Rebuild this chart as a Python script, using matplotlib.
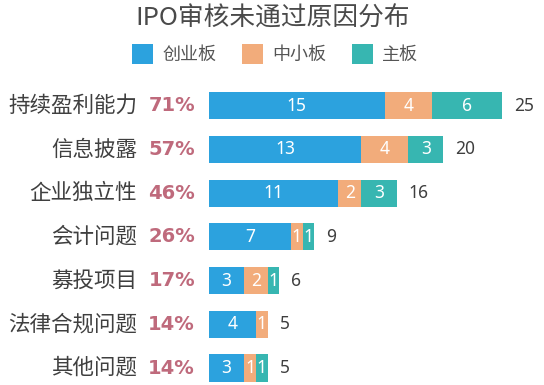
import matplotlib
matplotlib.use("Agg")
import matplotlib.pyplot as plt
from matplotlib.patches import Patch
import numpy as np

plt.rcParams['font.family'] = ['Noto Sans CJK SC', 'DejaVu Sans']

title = "IPO审核未通过原因分布"
categories = ["持续盈利能力", "信息披露", "企业独立性", "会计问题", "募投项目", "法律合规问题", "其他问题"]
percents = ["71%", "57%", "46%", "26%", "17%", "14%", "14%"]
series_names = ["创业板", "中小板", "主板"]
chuangye = [15, 13, 11, 7, 3, 4, 3]
zhongxiao = [4, 4, 2, 1, 2, 1, 1]
zhuban = [6, 3, 3, 1, 1, 0, 1]
totals = [25, 20, 16, 9, 6, 5, 5]

colors = ["#2CA2DE", "#F2AC7B", "#37B6B1"]
pct_color = "#BF6A7C"
text_color = "#3F3F3F"

W, H = 544, 385
fig = plt.figure(figsize=(W / 100, H / 100), dpi=100)
fig.patch.set_facecolor("white")

left_px, top_px = 209, 83
ax = fig.add_axes([left_px / W, 0, (W - left_px) / W, 1 - top_px / H])
ppu = 11.72
ax.set_xlim(0, (W - left_px) / ppu)
row0, row_h = 105.8, 43.7
ax.set_ylim((H - row0) / row_h, (top_px - row0) / row_h)
ax.axis("off")

y = np.arange(len(categories))
series = [chuangye, zhongxiao, zhuban]
left = np.zeros(len(categories))
for vals, col, name in zip(series, colors, series_names):
    vals = np.array(vals, dtype=float)
    ax.barh(y, vals, left=left, height=0.62, color=col, label=name)
    for yi, l, v in zip(y, left, vals):
        if v > 0:
            ax.text(l + v / 2, yi, f"{int(v)}", ha="center", va="center",
                    color="white", fontsize=12.5, family=['Noto Sans', 'DejaVu Sans'])
    left += vals

for yi, tot in zip(y, totals):
    ax.text(tot + 12 / ppu, yi, f"{tot}", ha="left", va="center", color=text_color,
            fontsize=12.5, family=['Noto Sans', 'DejaVu Sans'])

for yi, cat, pct in zip(y, categories, percents):
    ax.text((137 - left_px) / ppu, yi, cat, ha="right", va="center",
            color=text_color, fontsize=15.5, clip_on=False)
    ax.text((195 - left_px) / ppu, yi, pct, ha="right", va="center",
            color=pct_color, fontsize=14, fontweight="bold", clip_on=False,
            family=['DejaVu Sans'])

fig.text(272.5 / W, 1 - 19 / H, title, ha="center", va="center",
         fontsize=18.5, color="#4A4A4A")

handles = [Patch(facecolor=c, edgecolor="none") for c in colors]
fig.legend(handles, series_names, loc="center", bbox_to_anchor=(275 / W, 1 - 54 / H),
           ncol=3, frameon=False, fontsize=13, handlelength=1.2, handleheight=1.3,
           handletextpad=0.5, columnspacing=1.4, labelcolor="#555555",
           borderpad=0.2)

fig.savefig("out.png", dpi=100)
